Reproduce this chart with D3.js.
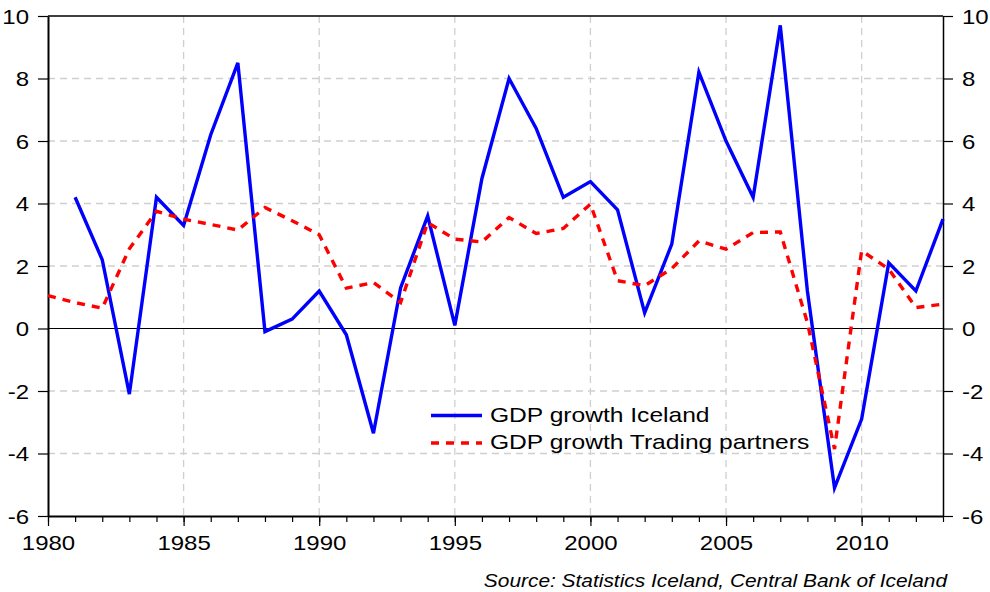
<!doctype html>
<html lang="en">
<head>
  <meta charset="utf-8">
  <title>GDP growth Iceland vs trading partners</title>
  <script src="https://d3js.org/d3.v7.min.js"></script>
  <style>
    body { margin: 0; background: #fff; }
    svg text { font-family: "Liberation Sans", Arial, Helvetica, sans-serif; fill: #000; }
  </style>
</head>
<body>
<div class="chart-container"></div>
<script>
  // yearly data, 1980-2013 (null = no value)
  const years = [1980, 1981, 1982, 1983, 1984, 1985, 1986, 1987, 1988, 1989,
    1990, 1991, 1992, 1993, 1994, 1995, 1996, 1997, 1998, 1999,
    2000, 2001, 2002, 2003, 2004, 2005, 2006, 2007, 2008, 2009,
    2010, 2011, 2012, 2013];
  const iceland = [null, 4.2, 2.2, -2.1, 4.2, 3.3, 6.2, 8.5, -0.1, 0.3,
    1.2, -0.2, -3.35, 1.3, 3.6, 0.1, 4.8, 8.0, 6.4, 4.2,
    4.7, 3.8, 0.5, 2.7, 8.2, 6.0, 4.2, 9.7, 1.2, -5.1,
    -2.9, 2.1, 1.2, 3.5];
  const partners = [1.05, 0.83, 0.65, 2.55, 3.75, 3.5, 3.33, 3.15, 3.87, 3.45,
    3.0, 1.29, 1.47, 0.83, 3.39, 2.86, 2.77, 3.55, 3.04, 3.2,
    3.98, 1.53, 1.37, 1.92, 2.8, 2.54, 3.07, 3.09, 0.19, -3.86,
    2.49, 1.9, 0.67, 0.78];
  const yTicks = [-6, -4, -2, 0, 2, 4, 6, 8, 10];
  const xLabels = [1980, 1985, 1990, 1995, 2000, 2005, 2010];
  const seriesNames = ['GDP growth Iceland', 'GDP growth Trading partners'];
  const sourceText = 'Source: Statistics Iceland, Central Bank of Iceland';

  const width = 990;
  const height = 592;
  const margin = { top: 16, right: 47, bottom: 76, left: 48 };
  const sx = 1.2; // the original font is drawn wider than it is tall

  const svg = d3.select('.chart-container').append('svg')
    .attr('width', width)
    .attr('height', height);

  const x = d3.scaleLinear()
    .domain([1980, 2013])
    .range([margin.left, width - margin.right]);

  const y = d3.scaleLinear()
    .domain([-6, 10])
    .range([height - margin.bottom, margin.top]);

  // plain hyphen minus, as in the original
  const fmt = d => String(d);

  // grid
  svg.append('g')
    .selectAll('line')
    .data(xLabels.filter(d => d > 1980))
    .join('line')
    .attr('x1', d => x(d)).attr('x2', d => x(d))
    .attr('y1', y(10)).attr('y2', y(-6))
    .attr('stroke', '#cfcfcf')
    .attr('stroke-width', 1.3)
    .attr('stroke-dasharray', '7,5');

  svg.append('g')
    .selectAll('line')
    .data(yTicks.filter(d => d > -6 && d < 10 && d !== 0))
    .join('line')
    .attr('x1', x(1980)).attr('x2', x(2013))
    .attr('y1', d => y(d)).attr('y2', d => y(d))
    .attr('stroke', '#cfcfcf')
    .attr('stroke-width', 1.3)
    .attr('stroke-dasharray', '7,5');

  // zero line
  svg.append('line')
    .attr('x1', x(1980)).attr('x2', x(2013))
    .attr('y1', y(0)).attr('y2', y(0))
    .attr('stroke', '#000')
    .attr('stroke-width', 1.2);

  // frame top
  svg.append('line')
    .attr('x1', x(1980)).attr('x2', x(2013))
    .attr('y1', y(10)).attr('y2', y(10))
    .attr('stroke', '#000')
    .attr('stroke-width', 1.5);

  // axes
  const leftAxis = svg.append('g')
    .attr('transform', `translate(${x(1980)},0)`)
    .call(d3.axisLeft(y).tickValues(yTicks).tickSize(10).tickSizeOuter(0).tickFormat(fmt));
  leftAxis.selectAll('text')
    .attr('x', -19 / sx)
    .attr('dy', '0.36em')
    .attr('transform', `scale(${sx},1)`);

  const rightAxis = svg.append('g')
    .attr('transform', `translate(${x(2013)},0)`)
    .call(d3.axisRight(y).tickValues(yTicks).tickSize(10).tickSizeOuter(0).tickFormat(fmt));
  rightAxis.selectAll('text')
    .attr('x', 19 / sx)
    .attr('dy', '0.36em')
    .attr('transform', `scale(${sx},1)`);

  svg.append('g')
    .attr('transform', `translate(0,${y(-6)})`)
    .call(d3.axisBottom(x).tickValues(years).tickSize(6).tickSizeOuter(0).tickFormat(''));

  const bottomAxis = svg.append('g')
    .attr('transform', `translate(0,${y(-6)})`)
    .call(d3.axisBottom(x).tickValues(xLabels).tickSize(10).tickSizeOuter(0).tickFormat(fmt));
  bottomAxis.selectAll('text')
    .attr('y', 34)
    .attr('dy', 0)
    .attr('x', 0)
    .attr('transform', `scale(${sx},1)`);

  svg.selectAll('.tick text')
    .style('font-size', '20px')
    .style('font-family', '"Liberation Sans", Arial, sans-serif')
    .attr('fill', '#000');
  svg.selectAll('.tick line').attr('stroke', '#000').attr('stroke-width', 1.2);
  svg.selectAll('.domain').attr('stroke', '#000');
  leftAxis.select('.domain').attr('stroke-width', 2);
  bottomAxis.select('.domain').attr('stroke-width', 2);
  rightAxis.select('.domain').attr('stroke-width', 1.5);

  // series
  const line = d3.line()
    .defined(d => d.value !== null)
    .x(d => x(d.year))
    .y(d => y(d.value));

  svg.append('path')
    .datum(years.map((yr, i) => ({ year: yr, value: iceland[i] })))
    .attr('fill', 'none')
    .attr('stroke', '#0000ff')
    .attr('stroke-width', 3.4)
    .attr('stroke-linejoin', 'miter')
    .attr('d', line);

  svg.append('path')
    .datum(years.map((yr, i) => ({ year: yr, value: partners[i] })))
    .attr('fill', 'none')
    .attr('stroke', '#ff0000')
    .attr('stroke-width', 3.4)
    .attr('stroke-dasharray', '8,7')
    .attr('d', line);

  // legend
  const legend = svg.append('g').attr('class', 'legend');
  const legendItems = [
    { name: seriesNames[0], colour: '#0000ff', dash: null, ly: 415.5 },
    { name: seriesNames[1], colour: '#ff0000', dash: '8,7', ly: 443 }
  ];
  legendItems.forEach(item => {
    legend.append('line')
      .attr('x1', 431).attr('x2', 482)
      .attr('y1', item.ly).attr('y2', item.ly)
      .attr('stroke', item.colour)
      .attr('stroke-width', 3.4)
      .attr('stroke-dasharray', item.dash);
    legend.append('text')
      .attr('transform', `translate(490,${item.ly + 6}) scale(${sx},1)`)
      .style('font-size', '20.5px')
      .text(item.name);
  });

  // source note
  svg.append('text')
    .attr('transform', `translate(947,587) scale(1.13,1)`)
    .style('font-size', '18.5px')
    .style('font-style', 'italic')
    .style('text-anchor', 'end')
    .text(sourceText);
</script>
</body>
</html>
